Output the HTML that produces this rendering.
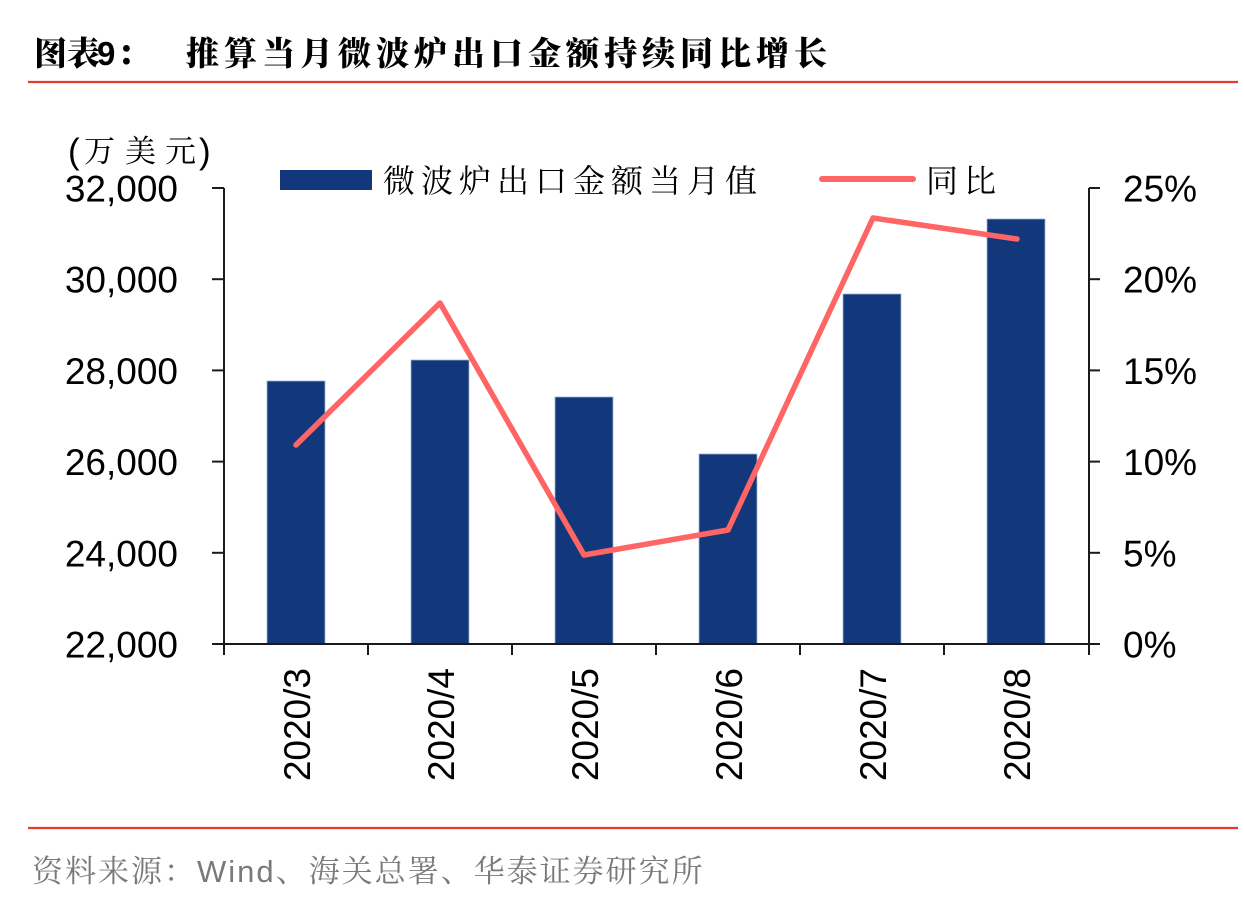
<!DOCTYPE html>
<html>
<head>
<meta charset="utf-8">
<style>
  html,body{margin:0;padding:0;background:#fff;}
  body{width:1244px;height:910px;overflow:hidden;}
  svg{display:block;}
  .num{font-family:"Liberation Sans",Arial,sans-serif;font-size:37px;fill:#000;}
  .cjk{font-family:"Noto Serif CJK SC","Noto Sans CJK SC",serif;fill:#000;}
  .title{font-family:"Noto Serif CJK SC","Noto Sans CJK SC",serif;font-weight:900;font-size:33px;fill:#000;}
</style>
</head>
<body>
<svg width="1244" height="910" viewBox="0 0 1244 910" xmlns="http://www.w3.org/2000/svg">
  <rect width="1244" height="910" fill="#fff"/>

  <!-- Title -->
  <text class="title" x="34" y="65" style="letter-spacing:0px">图表</text>
  <text x="97" y="65" font-family="Liberation Sans, Arial, sans-serif" font-weight="bold" font-size="33" fill="#000">9</text>
  <text class="title" x="117" y="65">：</text>
  <text class="title" x="186" y="65" style="letter-spacing:5px">推算当月微波炉出口金额持续同比增长</text>
  <line x1="28" y1="82" x2="1238" y2="82" stroke="#E8392F" stroke-width="2.2"/>

  <!-- Unit label -->
  <text x="68" y="163" font-family="Liberation Sans, Arial, sans-serif" font-size="35" fill="#000">(</text>
  <text class="cjk" font-size="31" y="162"><tspan x="84">万</tspan><tspan x="125">美</tspan><tspan x="165">元</tspan></text>
  <text x="199" y="163" font-family="Liberation Sans, Arial, sans-serif" font-size="35" fill="#000">)</text>

  <!-- Legend -->
  <rect x="280" y="170" width="92" height="20" fill="#12377A"/>
  <text class="cjk" x="383" y="192" font-size="32" style="letter-spacing:6px">微波炉出口金额当月值</text>
  <line x1="822" y1="179" x2="913" y2="179" stroke="#FF6565" stroke-width="6" stroke-linecap="round"/>
  <text class="cjk" x="926" y="192" font-size="32" style="letter-spacing:6px">同比</text>

  <!-- Bars -->
  <g fill="#12377A" stroke="#9db1d6" stroke-width="0.8">
    <rect x="267" y="381" width="58" height="263"/>
    <rect x="411" y="360" width="58" height="284"/>
    <rect x="555" y="397" width="58" height="247"/>
    <rect x="699" y="454" width="58" height="190"/>
    <rect x="843" y="294" width="58" height="350"/>
    <rect x="987" y="219" width="58" height="425"/>
  </g>

  <!-- Axes -->
  <g stroke="#1a1a1a" stroke-width="2" fill="none">
    <line x1="212" y1="644" x2="1100" y2="644"/>
    <line x1="224" y1="188" x2="224" y2="655"/>
    <line x1="1089" y1="188" x2="1089" y2="655"/>
    <line x1="212" y1="188" x2="224" y2="188"/>
    <line x1="212" y1="279.2" x2="224" y2="279.2"/>
    <line x1="212" y1="370.4" x2="224" y2="370.4"/>
    <line x1="212" y1="461.6" x2="224" y2="461.6"/>
    <line x1="212" y1="552.8" x2="224" y2="552.8"/>
    <line x1="1089" y1="188" x2="1100" y2="188"/>
    <line x1="1089" y1="279.2" x2="1100" y2="279.2"/>
    <line x1="1089" y1="370.4" x2="1100" y2="370.4"/>
    <line x1="1089" y1="461.6" x2="1100" y2="461.6"/>
    <line x1="1089" y1="552.8" x2="1100" y2="552.8"/>
    <line x1="368" y1="644" x2="368" y2="655"/>
    <line x1="512" y1="644" x2="512" y2="655"/>
    <line x1="656" y1="644" x2="656" y2="655"/>
    <line x1="800" y1="644" x2="800" y2="655"/>
    <line x1="944" y1="644" x2="944" y2="655"/>
  </g>

  <!-- YoY line -->
  <polyline points="296,445 440,303 584,555 728,530 873,218 1017,239" fill="none" stroke="#FF6565" stroke-width="5.5" stroke-linejoin="round" stroke-linecap="round"/>

  <!-- Left axis labels -->
  <g class="num" text-anchor="end">
    <text x="178" y="201.5">32,000</text>
    <text x="178" y="292.7">30,000</text>
    <text x="178" y="383.9">28,000</text>
    <text x="178" y="475.1">26,000</text>
    <text x="178" y="566.3">24,000</text>
    <text x="178" y="657.5">22,000</text>
  </g>

  <!-- Right axis labels -->
  <g class="num">
    <text x="1123" y="201.5">25%</text>
    <text x="1123" y="292.7">20%</text>
    <text x="1123" y="383.9">15%</text>
    <text x="1123" y="475.1">10%</text>
    <text x="1123" y="566.3">5%</text>
    <text x="1123" y="657.5">0%</text>
  </g>

  <!-- X axis labels (rotated) -->
  <g class="num" text-anchor="end">
    <text transform="translate(310,668) rotate(-90)">2020/3</text>
    <text transform="translate(454,668) rotate(-90)">2020/4</text>
    <text transform="translate(598,668) rotate(-90)">2020/5</text>
    <text transform="translate(742,668) rotate(-90)">2020/6</text>
    <text transform="translate(886,668) rotate(-90)">2020/7</text>
    <text transform="translate(1030,668) rotate(-90)">2020/8</text>
  </g>

  <!-- Footer -->
  <line x1="28" y1="828" x2="1238" y2="828" stroke="#E8392F" stroke-width="2.2"/>
  <text x="32" y="882" font-family="Liberation Sans, Noto Serif CJK SC, serif" font-size="31" fill="#7a7a7a" style="letter-spacing:2px">资料来源：Wind、海关总署、华泰证券研究所</text>
</svg>
</body>
</html>
